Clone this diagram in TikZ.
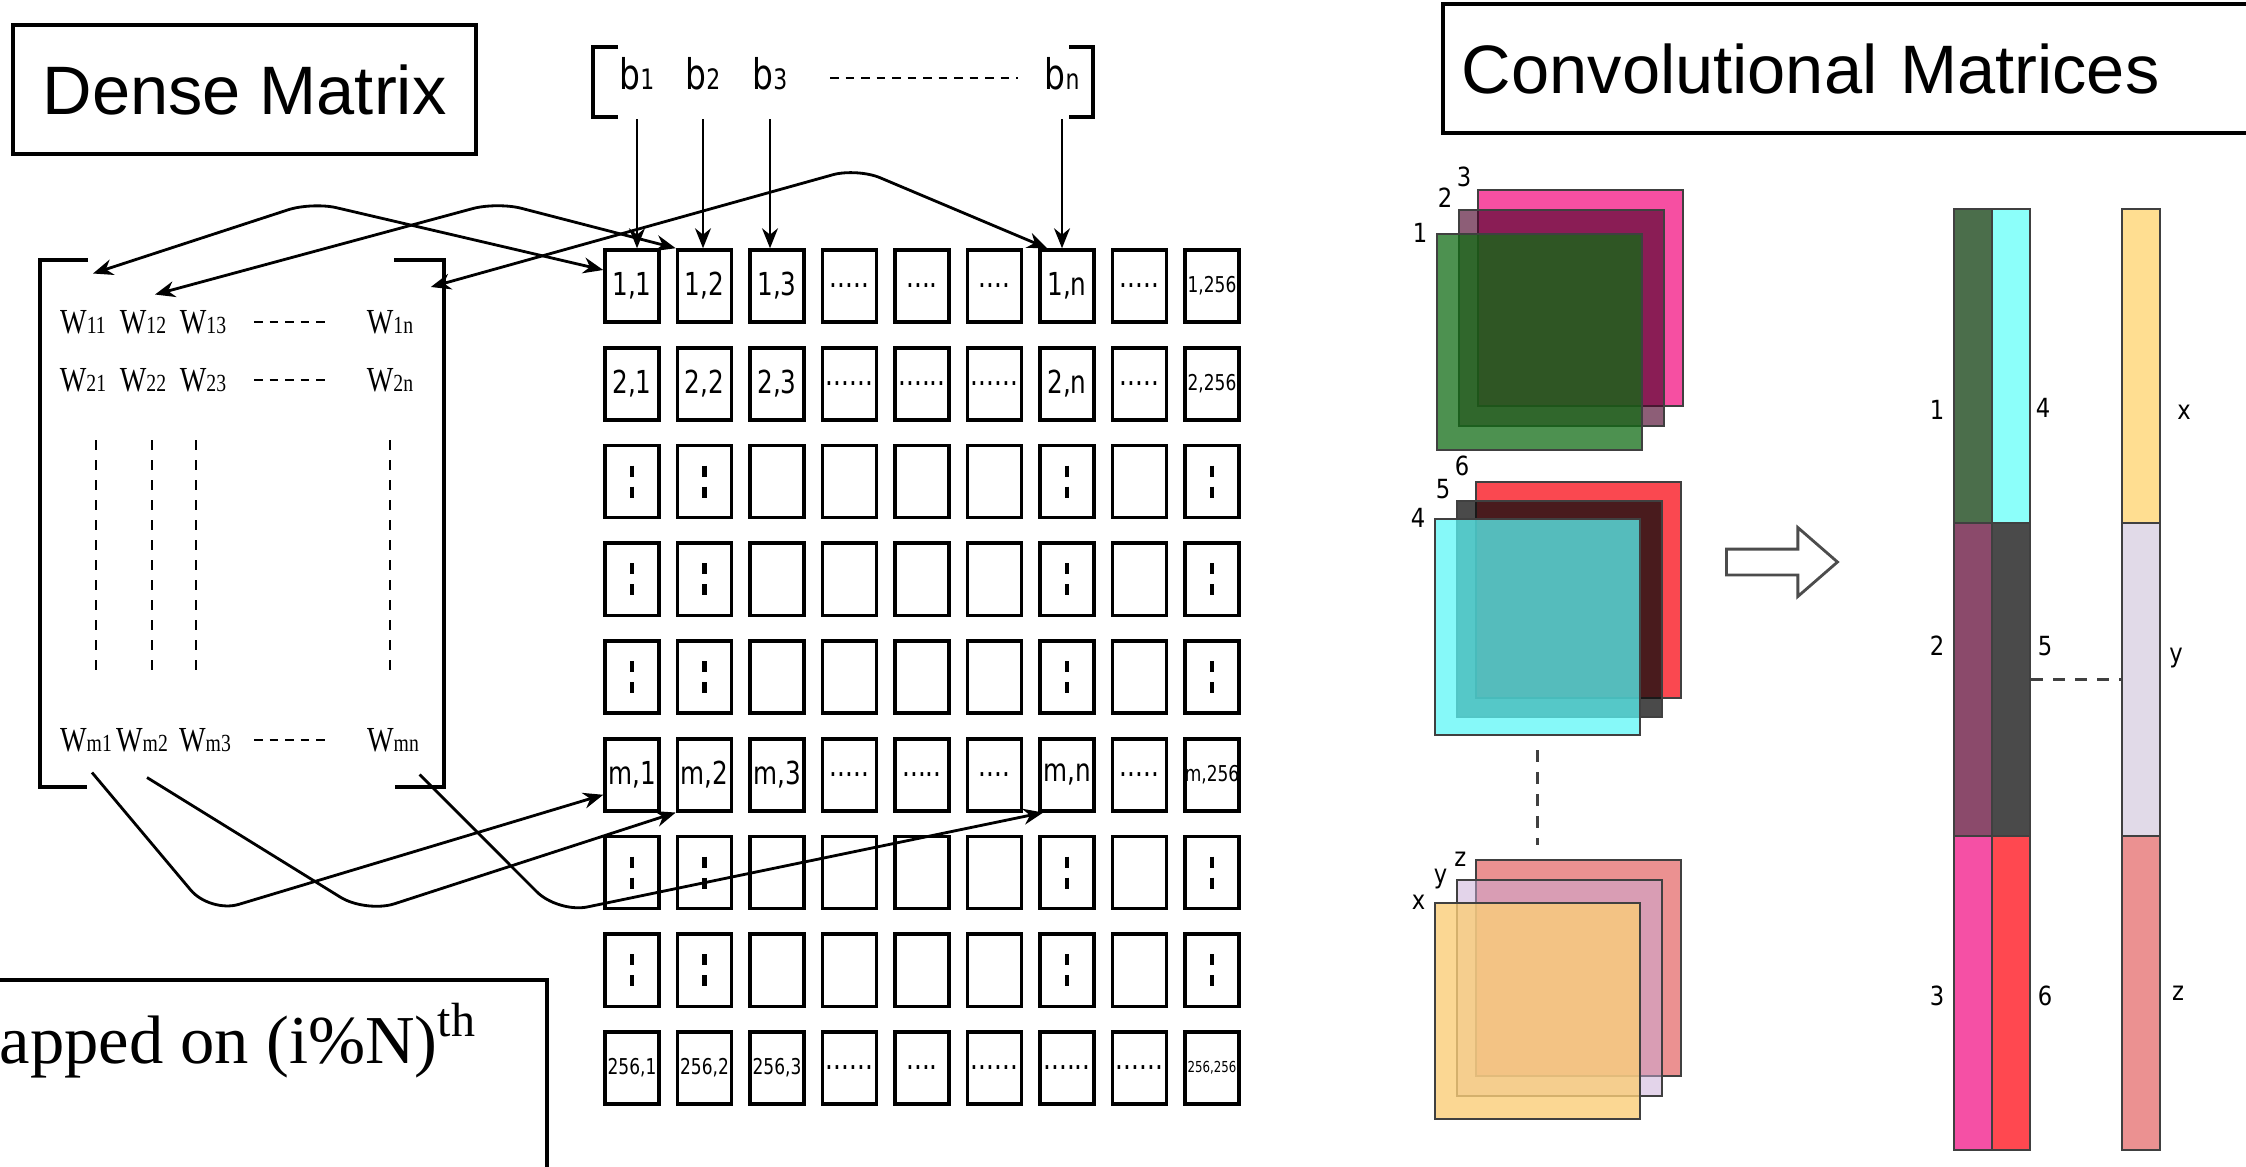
\documentclass[tikz,border=0pt]{standalone}
\usepackage{fontspec}
\setmainfont{Liberation Serif}
\setsansfont{Liberation Sans}
\newfontfamily\condfont{DejaVu Sans}[FakeStretch=0.86]
\newfontfamily\cellfont{DejaVu Sans}[FakeStretch=0.78]
\newfontfamily\wfont{Liberation Serif}[FakeStretch=0.8]
\usepackage{tikz}
\usetikzlibrary{positioning,shapes.arrows,arrows.meta,calc}

% sheet colours
\definecolor{pinkm}{RGB}{246,79,162}
\definecolor{plumm}{RGB}{76,0,41}
\definecolor{greenm}{RGB}{16,107,19}
\definecolor{redm}{RGB}{250,72,80}
\definecolor{darkm}{RGB}{12,12,12}
\definecolor{cyanm}{RGB}{90,248,248}
\definecolor{salmonm}{RGB}{235,145,145}
\definecolor{lavm}{RGB}{200,170,215}
\definecolor{orangem}{RGB}{250,205,120}
% bar colours
\definecolor{bar1}{RGB}{75,110,75}
\definecolor{bar2}{RGB}{139,74,107}
\definecolor{bar3}{RGB}{245,80,165}
\definecolor{bar4}{RGB}{140,255,250}
\definecolor{bar5}{RGB}{74,74,74}
\definecolor{bar6}{RGB}{255,72,80}
\definecolor{barx}{RGB}{255,222,145}
\definecolor{bary}{RGB}{225,218,232}
\definecolor{barz}{RGB}{235,145,145}

\newcommand\wsub[1]{W{\fontsize{7}{8}\selectfont #1}}
\newcommand\bsub[1]{b{\fontsize{8}{9}\selectfont #1}}
\newcommand\tinylab[2][6.2]{{\fontsize{#1}{#1}\selectfont #2}}
\newcommand\fourdots{....}
\newcommand\fivedots{.....}
\newcommand\sixdots{......}
\newcommand\gridrow[2]{%
  \foreach \lab [count=\col] in {#2}
    \node[cell] (c#1-\col) at ({632+72.5*(\col-1)},{286+97.75*(#1-1)}) {\lab};}

\begin{document}
\begin{tikzpicture}[x=0.01cm, y=-0.01cm,
    >={Stealth[length=0.2cm,width=0.16cm]},
    titlebox/.style={draw, line width=1.1pt, font=\sffamily\fontsize{19.5}{22}\selectfont,
        minimum height=1.29cm, inner sep=0},
    cell/.style={draw, line width=1pt, minimum width=0.54cm, minimum height=0.72cm,
        inner sep=0, font=\cellfont\fontsize{9}{10}\selectfont},
    link/.style={line width=0.9pt},
    celldots/.style={line width=1.3pt, dash pattern=on 0.11cm off 0.1cm},
    wlab/.style={inner sep=0, font=\wfont\fontsize{10}{11}\selectfont},
    blab/.style={inner sep=0, font=\cellfont\fontsize{12}{14}\selectfont},
    bracket/.style={line width=1pt},
    dashrow/.style={thick, dash pattern=on 0.085cm off 0.07cm},
    coldash/.style={semithick, dash pattern=on 0.1cm off 0.1cm},
    maparrow/.style={thick, rounded corners=0.25cm},
    sheet/.style={draw=black!75, line width=0.6pt, minimum width=2.05cm,
        minimum height=2.16cm, inner sep=0, anchor=north west},
    seg/.style={draw=black!75, line width=0.6pt, minimum width=0.38cm,
        minimum height=3.135cm, inner sep=0},
    tag/.style={inner sep=0, font=\condfont\fontsize{7.5}{8}\selectfont},
    sheetdash/.style={line width=0.9pt, black!75, dash pattern=on 0.12cm off 0.1cm}
]
    \useasboundingbox (0,0) rectangle (2246,1166);
    \fill[white] (0,0) rectangle (2246,1166);
    \clip (0,0) rectangle (2246,1166);

    % Titles
    \node[titlebox, minimum width=4.63cm] (dense) at (244.5,89.5) {Dense Matrix};
    \node[titlebox, anchor=west, text width=7.9cm, align=left, inner xsep=0.19cm]
        (conv) at (1441,68.5) {Convolutional Matrices};
    \node[draw, line width=1.1pt, minimum width=5.7cm, minimum height=2.1cm,
        anchor=north east] (mapbox) at (549,978) {};
    \node[anchor=base west, inner sep=0, font=\fontsize{19.5}{22}\selectfont]
        (maptext) at (-1,1063) {apped on (i\%N)\textsuperscript{th}};

    % Weight matrix
    \draw[bracket] (88,260) -| (40,787) -- (87,787);
    \draw[bracket] (394,260) -| (444,787) -- (395,787);
    \node[wlab] (w11) at (83,322) {\wsub{11}};
    \node[wlab] (w12) at (143,322) {\wsub{12}};
    \node[wlab] (w13) at (203,322) {\wsub{13}};
    \node[wlab] (w1n) at (390,322) {\wsub{1n}};
    \node[wlab] (w21) at (83,380) {\wsub{21}};
    \node[wlab] (w22) at (143,380) {\wsub{22}};
    \node[wlab] (w23) at (203,380) {\wsub{23}};
    \node[wlab] (w2n) at (390,380) {\wsub{2n}};
    \node[wlab] (wm1) at (86,740) {\wsub{m1}};
    \node[wlab] (wm2) at (142,740) {\wsub{m2}};
    \node[wlab] (wm3) at (205,740) {\wsub{m3}};
    \node[wlab] (wmn) at (393,740) {\wsub{mn}};
    \foreach \y in {322,380,740}
        \draw[dashrow] (254,\y) -- (329,\y);
    \foreach \x in {96,152,196,390}
        \draw[coldash] (\x,440) -- (\x,675);

    % Bias vector
    \node[blab] (b1) at (637,74) {\bsub{1}};
    \node[blab] (b2) at (703,74) {\bsub{2}};
    \node[blab] (b3) at (770,74) {\bsub{3}};
    \node[blab] (bn) at (1062,74) {\bsub{n}};
    \draw[dashrow] (830,78) -- (1018,78);
    \draw[bracket] (618,47) -| (593,117) -- (618,117);
    \draw[bracket] (1069,47) -| (1093,117) -- (1069,117);

    % Grid of cells
    \gridrow{1}{{1,1},{1,2},{1,3},\fivedots,\fourdots,\fourdots,{1,n},\fivedots,{\tinylab{1,256}}}
    \gridrow{2}{{2,1},{2,2},{2,3},\sixdots,\sixdots,\sixdots,{2,n},\fivedots,{\tinylab{2,256}}}
    \foreach \r in {3,4,5,7,8} {\gridrow{\r}{{},{},{},{},{},{},{},{},{}}}
    \gridrow{6}{{m,1},{m,2},{m,3},\fivedots,\fivedots,\fourdots,{m,n},\fivedots,{\tinylab{m,256}}}
    \gridrow{9}{{\tinylab{256,1}},{\tinylab{256,2}},{\tinylab{256,3}},\sixdots,\fourdots,\sixdots,\sixdots,\sixdots,{\tinylab[4.3]{256,256}}}

    \foreach \r in {1,...,9}
        \foreach \col [evaluate=\col as \nx using int(\col+1)] in {1,...,8}
            \draw[link] (c\r-\col) -- (c\r-\nx);
    \foreach \col in {1,...,9}
        \foreach \r [evaluate=\r as \ny using int(\r+1)] in {1,...,8}
            \draw[link] (c\r-\col) -- (c\ny-\col);
    \foreach \r in {3,4,5,7,8}
        \foreach \col in {1,2,7,9}
            \draw[celldots] ([yshift=0.16cm]c\r-\col.center) -- ([yshift=-0.16cm]c\r-\col.center);

    % Bias arrows
    \foreach \bl/\col in {b1/1,b2/2,b3/3,bn/7}
        \draw[->, semithick, shorten <=0.28cm] (\bl) -- (\bl |- c1-\col.north);

    % Mapping arrows
    \coordinate (apexa) at (312,202);
    \coordinate (apexb) at (497,202);
    \coordinate (apexn) at (857,168);
    \coordinate (lowa) at (210,913);
    \coordinate (lowb) at (366,913);
    \coordinate (lown) at (558,913);
    \draw[maparrow, <->] ([xshift=0.1cm,yshift=0.36cm]w11.north) -- (apexa)
        -- ([yshift=0.16cm]c1-1.west);
    \draw[maparrow, <->] ([xshift=0.12cm,yshift=0.15cm]w12.north) -- (apexb)
        -- (c1-2.north west);
    \draw[maparrow, <->] ([xshift=0.17cm,yshift=0.35cm]w1n.east) -- (apexn)
        -- ([xshift=0.09cm]c1-7.north west);
    \draw[maparrow, ->, rounded corners=0.3cm] ([xshift=0.06cm,yshift=-0.2cm]wm1.south) -- (lowa)
        -- ([yshift=-0.2cm]c6-1.west);
    \draw[maparrow, ->, rounded corners=0.3cm] ([xshift=0.05cm,yshift=-0.25cm]wm2.south) -- (lowb)
        -- (c6-2.south west);
    \draw[maparrow, ->, rounded corners=0.3cm] ([yshift=-0.22cm]wmn.south east) -- (lown)
        -- ([xshift=0.05cm]c6-7.south west);

    % Stacked sheets
    \node[sheet, fill=pinkm] (m3) at (1477,189) {};
    \node[sheet, fill=plumm, fill opacity=0.63] (m2) at (1458,209) {};
    \node[sheet, fill=greenm, fill opacity=0.74] (m1) at (1436,233) {};
    \node[tag, left=0.08cm of m1.north west] (t1) {1};
    \node[tag, above left=0.01cm and 0.05cm of m2.north west] (t2) {2};
    \node[tag, above left=0.01cm and 0.05cm of m3.north west] (t3) {3};

    \node[sheet, fill=redm] (m6) at (1475,481) {};
    \node[sheet, fill=darkm, fill opacity=0.74] (m5) at (1456,500) {};
    \node[sheet, fill=cyanm, fill opacity=0.73] (m4) at (1434,518) {};
    \node[tag, left=0.08cm of m4.north west] (t4) {4};
    \node[tag, above left=0.0cm and 0.05cm of m5.north west] (t5) {5};
    \node[tag, above left=0.04cm and 0.05cm of m6.north west] (t6) {6};

    \node[sheet, fill=salmonm] (mz) at (1475,859) {};
    \node[sheet, fill=lavm, fill opacity=0.5] (my) at (1456,879) {};
    \node[sheet, fill=orangem, fill opacity=0.8] (mx) at (1434,902) {};
    \node[tag, left=0.08cm of mx.north west] (tx) {x};
    \node[tag, left=0.08cm of my.north west] (ty) {y};
    \node[tag, left=0.08cm of mz.north west] (tz) {z};

    \draw[sheetdash, shorten <=0.14cm, shorten >=0.14cm] (m4.south) -- (m4.south |- mz.north);

    \node[single arrow, draw=black!70, line width=0.8pt, fill=white, minimum height=1.11cm,
        inner sep=0.115cm, single arrow head extend=0.215cm, single arrow tip angle=82]
        (shiftarrow) at (1774.5,562) {};

    % Flattened columns
    \foreach \n/\x/\y in {1/1973/366, 2/1973/679.5, 3/1973/993,
                          4/2011/366, 5/2011/679.5, 6/2011/993,
                          x/2141/366, y/2141/679.5, z/2141/993}
        \node[seg, fill=bar\n] (s\n) at (\x,\y) {};
    \foreach \n/\x/\y in {1/1937/410, 2/1937/646, 3/1937/996,
                          4/2043/408, 5/2045/646, 6/2045/996,
                          x/2184/412, y/2176/658, z/2178/993}
        \node[tag] (l\n) at (\x,\y) {\n};
    \draw[sheetdash] (s5.east) -- (sy.west);
\end{tikzpicture}
\end{document}
